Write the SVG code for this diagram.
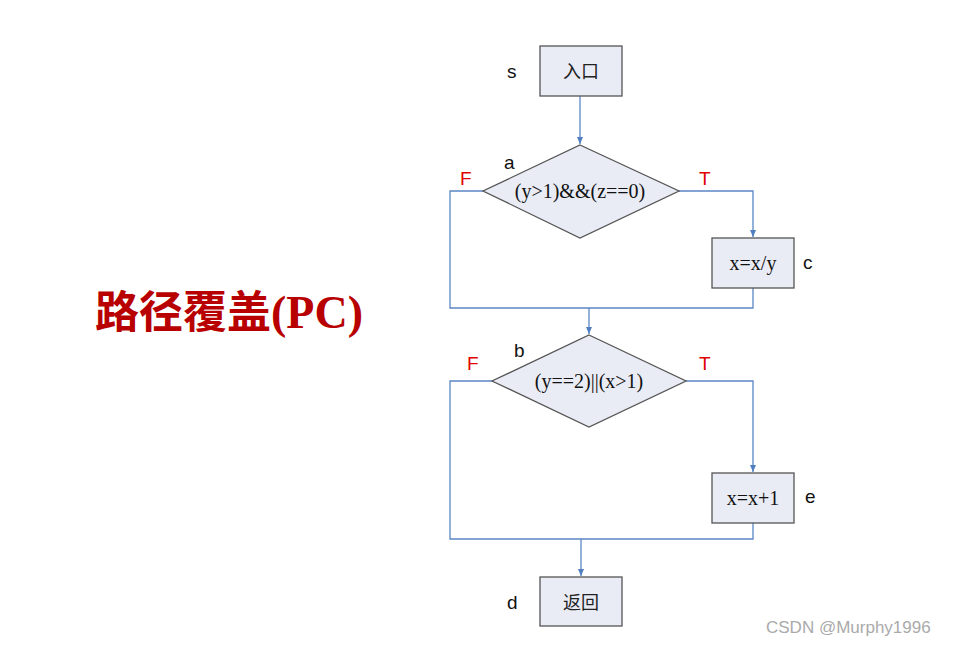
<svg xmlns="http://www.w3.org/2000/svg" width="963" height="646" viewBox="0 0 963 646">
<style>
.node{fill:#e9ecf5;stroke:#555;stroke-width:1.3}
.ntext{font-family:"Liberation Serif",serif;font-size:20px;fill:#111;text-anchor:middle}
.ctext{font-family:"Noto Sans CJK SC",sans-serif;font-size:18px;fill:#222;text-anchor:middle}
.lbl{font-family:"Liberation Sans",sans-serif;font-size:19px;fill:#111}
.tf{font-family:"Liberation Sans",sans-serif;font-size:19px;fill:#e00000}
.conn{fill:none;stroke:#5b87c5;stroke-width:1.3}
</style>
<defs>
<marker id="arr" markerWidth="8" markerHeight="8" refX="7" refY="4" orient="auto" markerUnits="userSpaceOnUse">
<path d="M0,1 L7,4 L0,7 Z" fill="#4f7fc0"/>
</marker>
</defs>
<rect width="963" height="646" fill="#fff"/>
<text x="95" y="328" font-family="Noto Sans CJK SC,serif" font-weight="bold" font-size="44" fill="#b80000">路径覆盖<tspan font-family="Liberation Serif,serif" font-size="46">(PC)</tspan></text>
<g id="connectors">
<path class="conn" d="M580,96 V144" marker-end="url(#arr)"/>
<path class="conn" d="M679,191 H753 V237" marker-end="url(#arr)"/>
<path class="conn" d="M753,288 V308 H450 V191 H483"/>
<path class="conn" d="M589,308 V334" marker-end="url(#arr)"/>
<path class="conn" d="M686,381 H753 V472" marker-end="url(#arr)"/>
<path class="conn" d="M753,523 V539 H450 V381 H492"/>
<path class="conn" d="M581,539 V576" marker-end="url(#arr)"/>
</g>
<g id="s">
<rect class="node" x="540" y="46" width="82" height="50"/>
<text class="ctext" x="581" y="78">入口</text>
<text class="lbl" x="507" y="78">s</text>
</g>
<g id="a">
<polygon class="node" points="580,145 679,191 580,238 483,191"/>
<text class="ntext" x="580" y="198">(y&gt;1)&amp;&amp;(z==0)</text>
<text class="lbl" x="504" y="169">a</text>
<text class="tf" x="460" y="185">F</text>
<text class="tf" x="699" y="185">T</text>
</g>
<g id="c">
<rect class="node" x="712" y="238" width="82" height="50"/>
<text class="ntext" x="753" y="270">x=x/y</text>
<text class="lbl" x="803" y="269">c</text>
</g>
<g id="b">
<polygon class="node" points="589,335 686,381 589,427 492,381"/>
<text class="ntext" x="589" y="388">(y==2)||(x&gt;1)</text>
<text class="lbl" x="514" y="357">b</text>
<text class="tf" x="467" y="370">F</text>
<text class="tf" x="699" y="370">T</text>
</g>
<g id="e">
<rect class="node" x="712" y="473" width="82" height="50"/>
<text class="ntext" x="753" y="505">x=x+1</text>
<text class="lbl" x="805" y="503">e</text>
</g>
<g id="d">
<rect class="node" x="540" y="577" width="82" height="49"/>
<text class="ctext" x="581" y="609">返回</text>
<text class="lbl" x="507" y="609">d</text>
</g>
<text x="766" y="633" font-family="Liberation Sans,sans-serif" font-size="17" fill="#aaa">CSDN @Murphy1996</text>
</svg>
